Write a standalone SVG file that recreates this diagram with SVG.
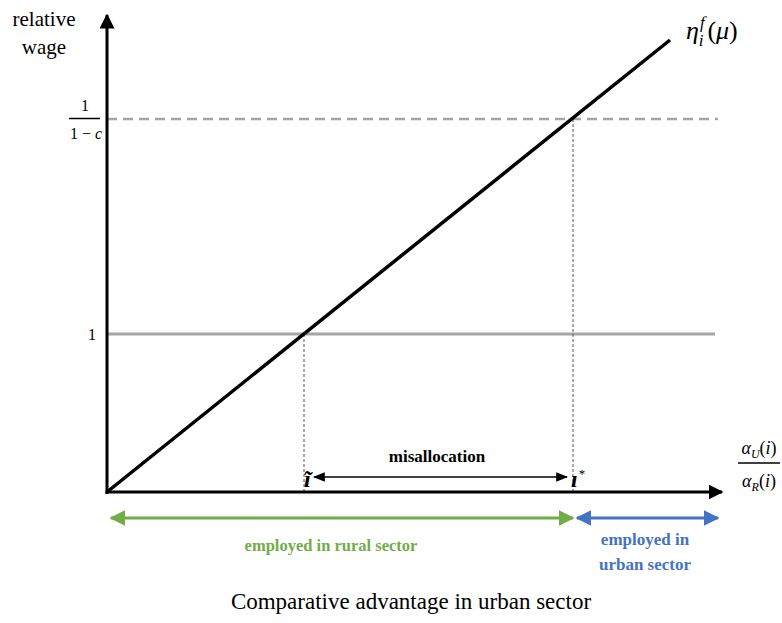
<svg xmlns="http://www.w3.org/2000/svg" width="782" height="623" viewBox="0 0 782 623">
<style>
.t{font-family:"Liberation Serif","DejaVu Serif",serif;fill:#000}
.m{font-family:"Liberation Serif","DejaVu Serif",serif;font-style:italic;fill:#000}
.ax{stroke:#000;stroke-width:3;fill:none}
.guide{stroke:#555;stroke-width:1;stroke-dasharray:3,2;fill:none}
</style>
<defs>
<marker id="ab" viewBox="0 0 10 10" refX="9" refY="5" markerWidth="5" markerHeight="5" orient="auto-start-reverse"><path d="M0,0 L10,5 L0,10 z" fill="#000"/></marker>
<marker id="as" viewBox="0 0 10 10" refX="9" refY="5" markerWidth="8" markerHeight="8" orient="auto-start-reverse"><path d="M0,1 L10,5 L0,9 z" fill="#000"/></marker>
<marker id="ag" viewBox="0 0 10 10" refX="9" refY="5" markerWidth="5.2" markerHeight="5.2" orient="auto-start-reverse"><path d="M0,0 L10,5 L0,10 z" fill="#70ad47"/></marker>
<marker id="abl" viewBox="0 0 10 10" refX="9" refY="5" markerWidth="5.2" markerHeight="5.2" orient="auto-start-reverse"><path d="M0,0 L10,5 L0,10 z" fill="#4472c4"/></marker>
</defs>
<rect width="782" height="623" fill="#fff"/>
<g id="connectors">
<line x1="107" y1="334" x2="715" y2="334" stroke="#a6a6a6" stroke-width="3"/>
<line x1="107" y1="119" x2="718" y2="119" stroke="#a6a6a6" stroke-width="2.5" stroke-dasharray="10,6"/>
<line x1="304" y1="334" x2="304" y2="492" class="guide"/>
<line x1="573" y1="119" x2="573" y2="492" class="guide"/>
<line x1="107" y1="492" x2="670" y2="40" stroke="#000" stroke-width="3.5"/>
<line x1="107" y1="494" x2="107" y2="15" class="ax" marker-end="url(#ab)"/>
<line x1="105.5" y1="492" x2="722" y2="492" class="ax" marker-end="url(#ab)"/>
<line x1="314" y1="477" x2="567" y2="477" stroke="#000" stroke-width="1.5" marker-start="url(#as)" marker-end="url(#as)"/>
<line x1="111" y1="518" x2="573" y2="518" stroke="#70ad47" stroke-width="3" marker-start="url(#ag)" marker-end="url(#ag)"/>
<line x1="577" y1="518" x2="718" y2="518" stroke="#4472c4" stroke-width="3" marker-start="url(#abl)" marker-end="url(#abl)"/>
</g>
<g id="y-label">
<text class="t" x="44" y="26" font-size="21" text-anchor="middle">relative</text>
<text class="t" x="44" y="54" font-size="21" text-anchor="middle">wage</text>
</g>
<g id="tick-1c">
<text class="t" x="85" y="111" font-size="16" text-anchor="middle">1</text>
<line x1="69" y1="118.5" x2="100" y2="118.5" stroke="#000" stroke-width="1.5"/>
<text class="t" x="86" y="139" font-size="16" text-anchor="middle">1 − <tspan font-style="italic">c</tspan></text>
</g>
<g id="tick-1">
<text class="t" x="92" y="340" font-size="16" text-anchor="middle">1</text>
</g>
<g id="curve-label">
<text class="m" x="686" y="39" font-size="26">η<tspan font-size="17" dy="-11" dx="1">f</tspan><tspan font-size="17" dx="-6" dy="18">i</tspan><tspan font-style="normal" font-size="26" dx="4" dy="-7">(</tspan>μ<tspan font-style="normal">)</tspan></text>
</g>
<g id="x-label">
<text class="m" x="759" y="454" font-size="18" text-anchor="middle">α<tspan font-size="12" dy="4">U</tspan><tspan dy="-4" font-style="normal">(</tspan>i<tspan font-style="normal">)</tspan></text>
<line x1="738" y1="463" x2="780" y2="463" stroke="#000" stroke-width="1.5"/>
<text class="m" x="759" y="487" font-size="18" text-anchor="middle">α<tspan font-size="12" dy="4">R</tspan><tspan dy="-4" font-style="normal">(</tspan>i<tspan font-style="normal">)</tspan></text>
</g>
<g id="i-tilde">
<text class="m" x="304" y="487" font-size="24" font-weight="bold">ĩ</text>
</g>
<g id="i-star">
<text class="m" x="571" y="487" font-size="24" font-weight="bold">ı<tspan font-size="13" font-weight="normal" font-style="normal" dx="1" dy="-9">*</tspan></text>
</g>
<g id="misallocation">
<text class="t" x="437" y="462" font-size="17" font-weight="bold" text-anchor="middle">misallocation</text>
</g>
<g id="rural">
<text class="t" x="331" y="551" font-size="16.5" font-weight="bold" style="fill:#70ad47" text-anchor="middle">employed in rural sector</text>
</g>
<g id="urban">
<text class="t" x="645" y="545" font-size="17" font-weight="bold" style="fill:#4472c4" text-anchor="middle">employed in</text>
<text class="t" x="645" y="570" font-size="17" font-weight="bold" style="fill:#4472c4" text-anchor="middle">urban sector</text>
</g>
<g id="title">
<text class="t" x="411" y="609" font-size="23" text-anchor="middle">Comparative advantage in urban sector</text>
</g>
</svg>
